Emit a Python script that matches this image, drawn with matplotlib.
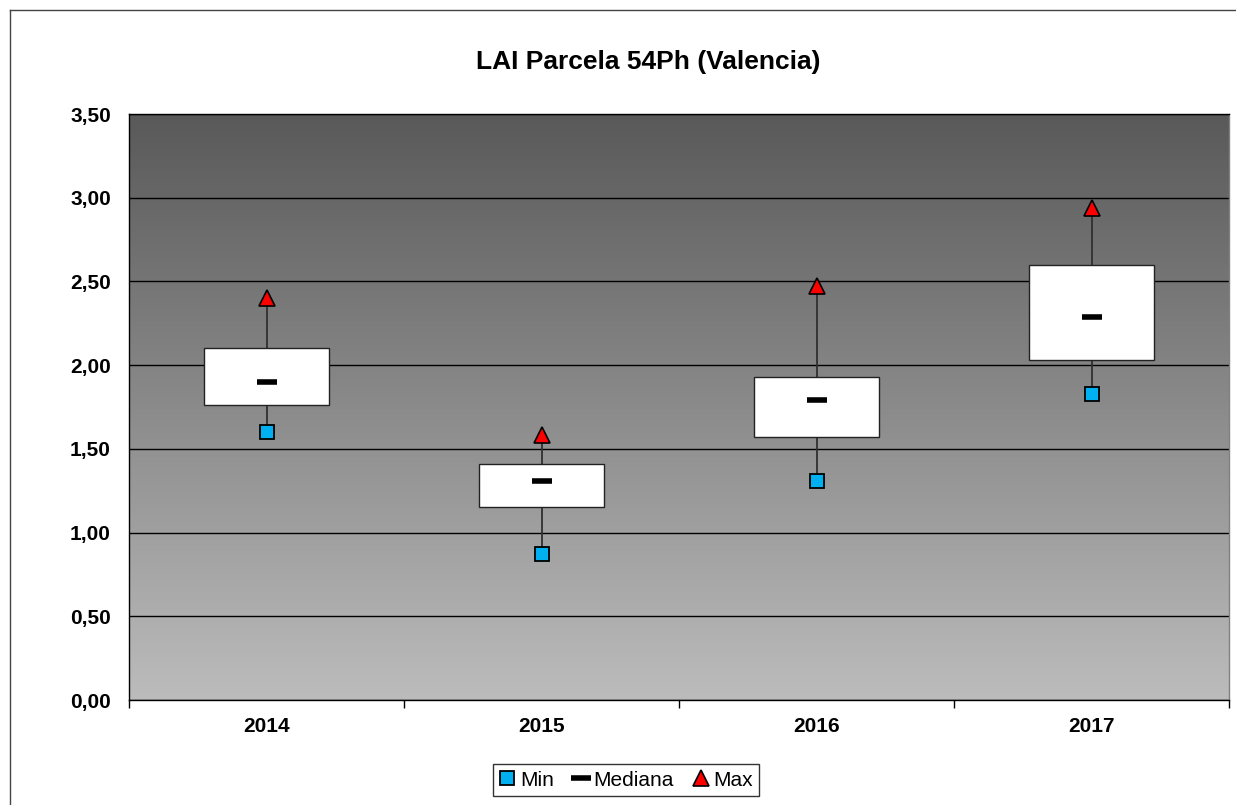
import numpy as np
import matplotlib
matplotlib.use("Agg")
import matplotlib.pyplot as plt
from matplotlib.colors import LinearSegmentedColormap
from matplotlib.lines import Line2D
from matplotlib.ticker import FuncFormatter, MultipleLocator

plt.rcParams['font.family'] = ['Liberation Sans', 'DejaVu Sans']

years = ['2014', '2015', '2016', '2017']
q1 = [1.76, 1.15, 1.57, 2.03]
median = [1.90, 1.31, 1.79, 2.29]
q3 = [2.10, 1.41, 1.93, 2.60]
mins = [1.60, 0.87, 1.31, 1.83]
maxs = [2.40, 1.58, 2.47, 2.94]

W, H = 1236, 805
fig = plt.figure(figsize=(W / 100, H / 100), dpi=100)
ax = fig.add_axes([129 / W, 105 / H, 1100 / W, 586 / H])

# gradient background of the plot area
cmap = LinearSegmentedColormap.from_list('bg', ['#bcbcbc', '#595959'])
grad = np.linspace(0, 1, 256).reshape(-1, 1)
ax.imshow(grad, cmap=cmap, aspect='auto', origin='lower',
          extent=[0, 1, 0, 1], transform=ax.transAxes, zorder=0)

x = np.arange(len(years))
ax.set_xlim(-0.5, len(years) - 0.5)
ax.set_ylim(0, 3.5)

ax.yaxis.set_major_locator(MultipleLocator(0.5))
ax.yaxis.set_major_formatter(FuncFormatter(lambda v, p: f"{v:.2f}".replace('.', ',')))
ax.grid(axis='y', color='black', linewidth=1, zorder=1)
ax.set_axisbelow(True)

# whiskers, boxes and markers
ax.vlines(x, mins, maxs, color='#303030', linewidth=1.3, zorder=2)
heights = np.array(q3) - np.array(q1)
ax.bar(x, heights, bottom=q1, width=0.455, color='white',
       edgecolor='#222222', linewidth=1, zorder=3)
ax.plot(x, mins, linestyle='none', marker='s', markersize=10,
        markerfacecolor='#00b0f0', markeredgecolor='black', markeredgewidth=1.3,
        zorder=4, label='Min')
ax.plot(x, median, linestyle='none', marker='_', markersize=15,
        markeredgewidth=4, color='black', zorder=4, label='Mediana')
ax.plot(x, maxs, linestyle='none', marker='^', markersize=11,
        markerfacecolor='#ff0000', markeredgecolor='black', markeredgewidth=1.2,
        zorder=4, label='Max')

ax.set_xticks(x)
ax.set_xticklabels(years)
ax.set_xticks(np.arange(-0.5, len(years)), minor=True)
ax.tick_params(axis='x', which='major', length=0, pad=12, labelsize=15)
ax.tick_params(axis='x', which='minor', length=6, direction='out', width=1)
ax.tick_params(axis='y', length=0, pad=13, labelsize=15)
for lab in ax.get_xticklabels() + ax.get_yticklabels():
    lab.set_fontweight('bold')

for s in ax.spines.values():
    s.set_color('black')
    s.set_linewidth(1)
ax.spines['right'].set_color('#808080')

fig.text(648 / W, 1 - 62 / H, 'LAI Parcela 54Ph (Valencia)', ha='center', va='center',
         fontsize=19, fontweight='bold')

leg = fig.legend(loc='center', bbox_to_anchor=(626 / W, 1 - 780 / H), ncol=3,
                 fontsize=15, frameon=True, fancybox=False, handlelength=0.8,
                 handletextpad=0.2, columnspacing=0.9, borderpad=0.3)
leg.get_frame().set_edgecolor('black')
leg.get_frame().set_linewidth(1)

# outer chart border
fig.add_artist(Line2D([10 / W, 10 / W], [0, 1 - 10 / H], color='#444444', linewidth=1))
fig.add_artist(Line2D([10 / W, 1], [1 - 10 / H, 1 - 10 / H], color='#444444', linewidth=1))

fig.savefig('out.png', dpi=100)
